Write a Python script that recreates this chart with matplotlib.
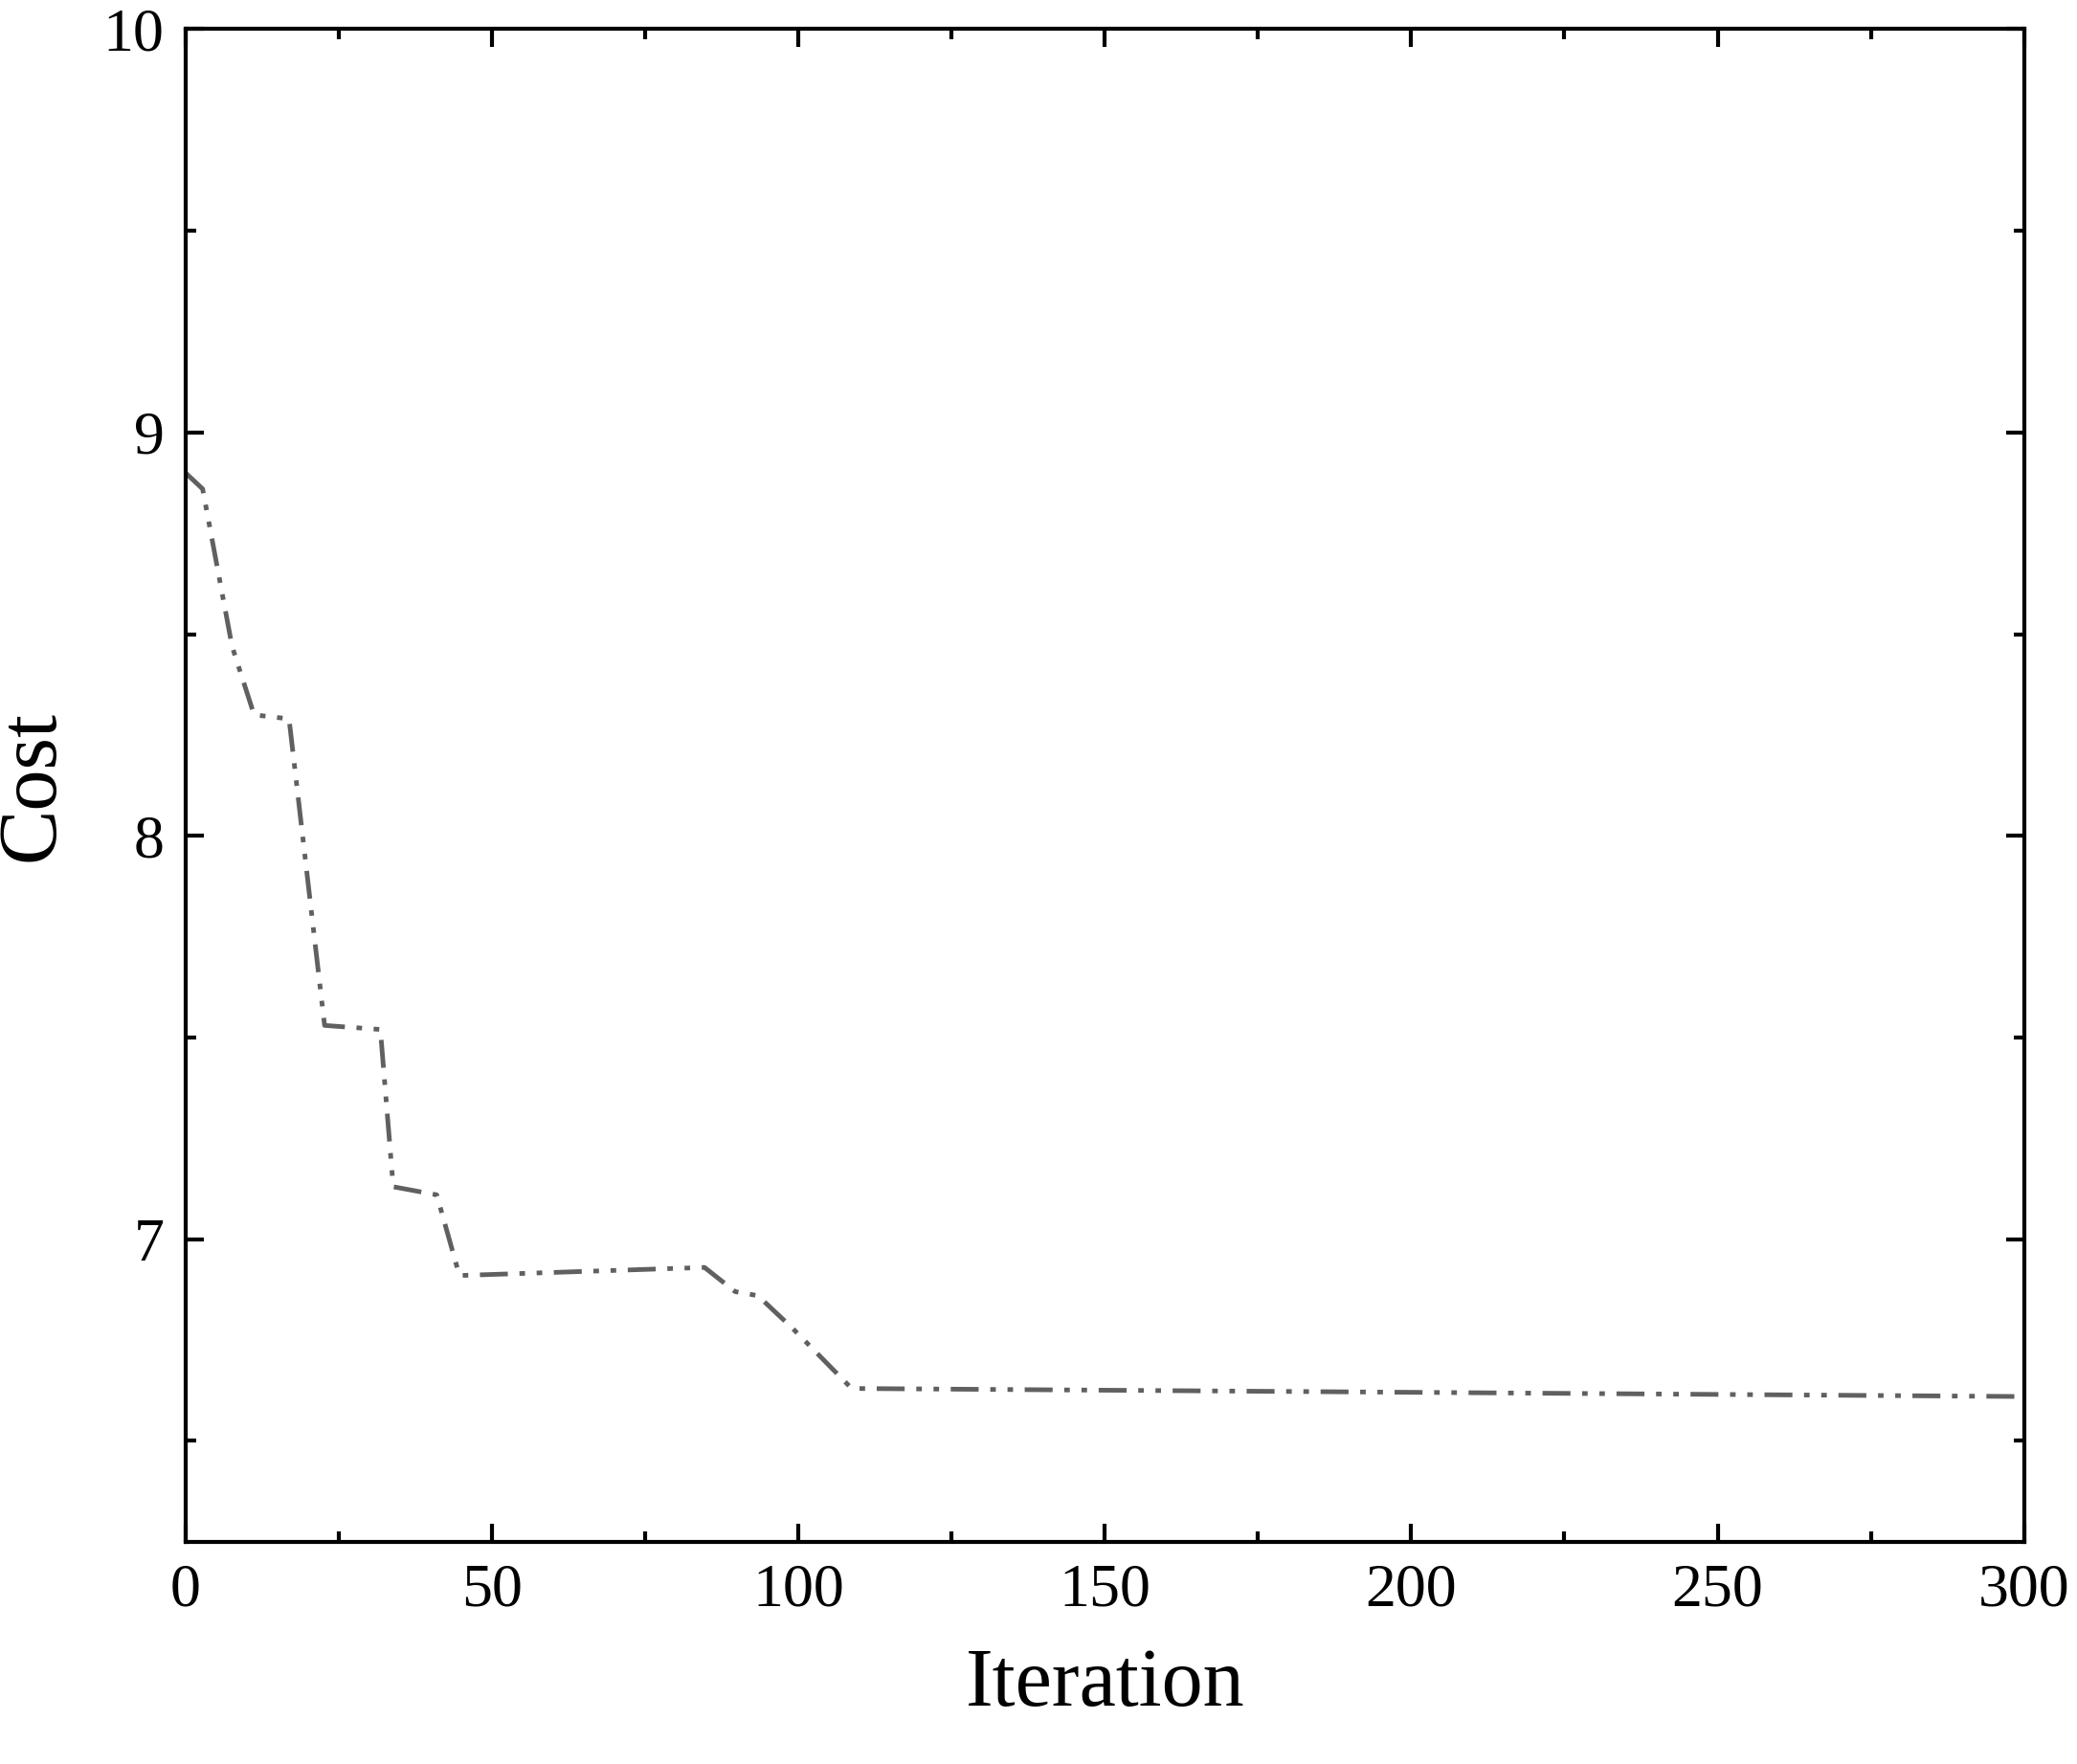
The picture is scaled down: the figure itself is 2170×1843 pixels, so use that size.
import matplotlib

matplotlib.use("Agg")
import matplotlib.pyplot as plt
from matplotlib.ticker import MultipleLocator

# convergence curve
iteration = [0, 2.8, 7.6, 11.2, 16.9, 22.7, 31.8, 33.9, 41.0, 44.7, 84.7, 89.7, 93.4, 99.0, 108.7, 300]
cost = [8.90, 8.86, 8.47, 8.30, 8.29, 7.53, 7.52, 7.13, 7.11, 6.91, 6.93, 6.87, 6.86, 6.78, 6.63, 6.61]

plt.rcParams["font.family"] = ["Liberation Serif", "DejaVu Serif"]

fig = plt.figure(figsize=(21.70, 18.43), dpi=100)
ax = fig.add_axes([0.0893, 0.126, 0.8852, 0.8575])

ax.plot(iteration, cost, color="#606060", linewidth=3.5,
        linestyle=(0, (6, 2.5, 1.2, 2.5, 1.2, 2.5)))

ax.set_xlim(0, 300)
ax.set_ylim(6.25, 10)
ax.xaxis.set_major_locator(MultipleLocator(50))
ax.xaxis.set_minor_locator(MultipleLocator(25))
ax.yaxis.set_major_locator(MultipleLocator(1))
ax.yaxis.set_minor_locator(MultipleLocator(0.5))
ax.tick_params(which="both", direction="in", top=True, right=True, width=3,
               labelsize=46, pad=16)
ax.tick_params(which="major", length=14)
ax.tick_params(which="minor", length=8)
for s in ax.spines.values():
    s.set_linewidth(3)

ax.set_xlabel("Iteration", fontsize=62, labelpad=22)
ax.set_ylabel("Cost", fontsize=62, labelpad=24)

fig.savefig("out.png", dpi=100)
